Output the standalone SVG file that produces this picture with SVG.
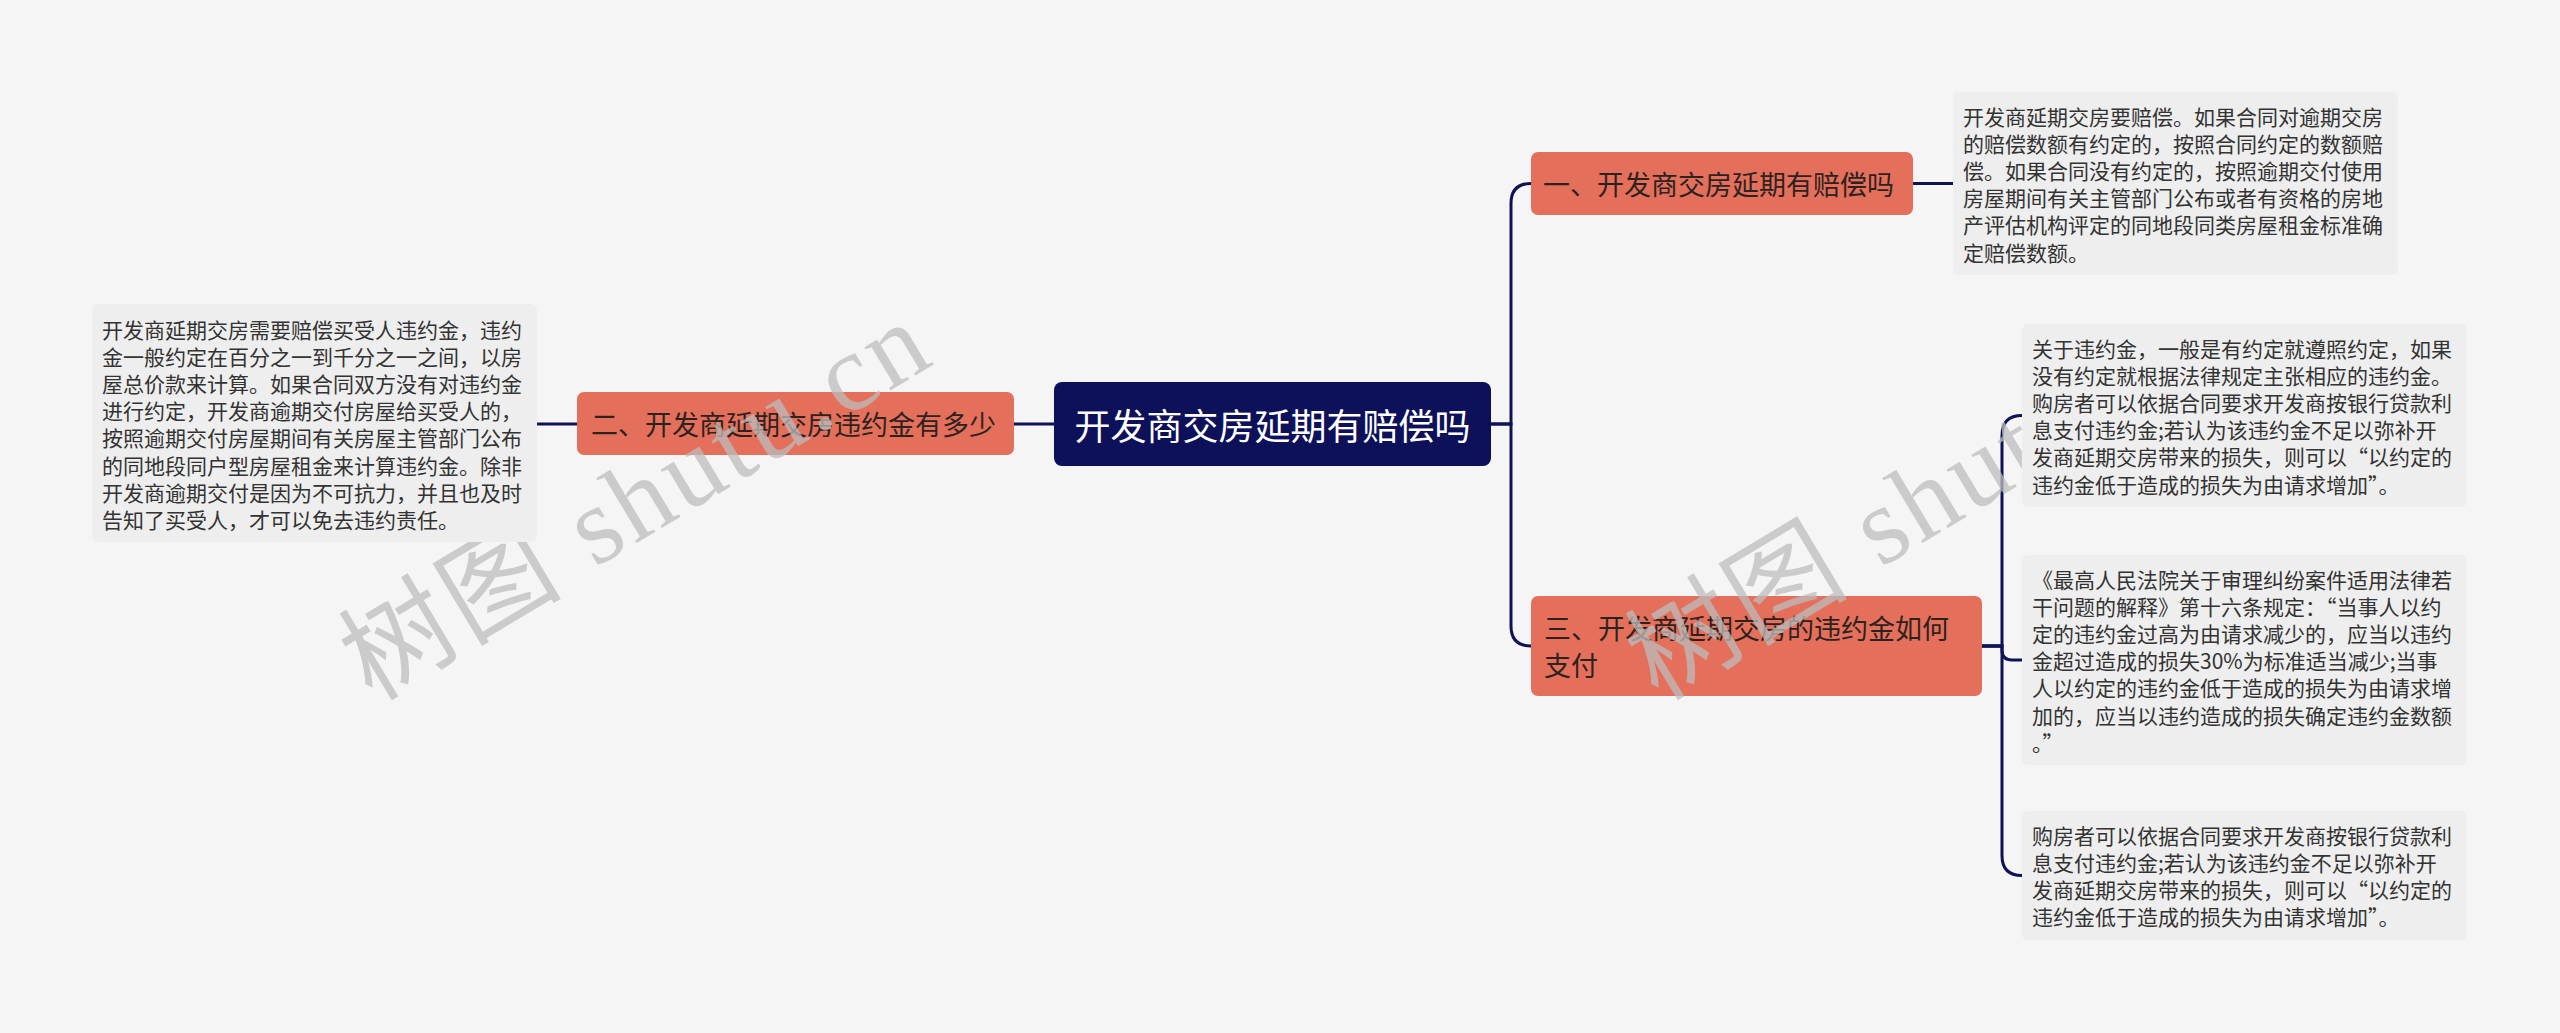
<svg xmlns="http://www.w3.org/2000/svg" width="2560" height="1033" viewBox="0 0 2560 1033">
<style>
.bg{fill:#f5f5f5}
.root{fill:#0c115a}
.topic{fill:#e4705c}
.box{fill:#eeeeee}
.conn{fill:none;stroke:#0e1257;stroke-width:3}
.t{font-family:"Noto Sans CJK SC","Noto Sans",sans-serif;dominant-baseline:central}
.rt{font-size:36px;fill:#ffffff;text-anchor:middle}
.tt{font-size:27px;fill:#2e2220}
.bt{font-size:21px;fill:#333333}
.wm{font-family:"Liberation Serif","Noto Sans CJK SC",serif;font-size:110px;fill:#bdbdbd;opacity:0.75;letter-spacing:4px}
</style>
<rect class="bg" x="0" y="0" width="2560" height="1033"/>
<g id="connectors">
<path class="conn" d="M1054 424 H1014"/>
<path class="conn" d="M577 424 H537"/>
<path class="conn" d="M1491 424 H1511 V203.5 Q1511 183.5 1531 183.5"/>
<path class="conn" d="M1491 424 H1511 V626 Q1511 646 1531 646"/>
<path class="conn" d="M1913 183.5 H1953"/>
<path class="conn" d="M1982 646 H2002 V435.5 Q2002 415.5 2022 415.5"/>
<path class="conn" d="M1982 646 H2002 V650 Q2002 660 2012 660 H2022"/>
<path class="conn" d="M1982 646 H2002 V855.5 Q2002 875.5 2022 875.5"/>
</g>
<g id="root">
<rect class="root" x="1054" y="382" width="437" height="84" rx="8"/>
<text class="t rt" x="1272.5" y="424">开发商交房延期有赔偿吗</text>
</g>
<g id="topic1">
<rect class="topic" x="1531" y="152" width="382" height="63" rx="7"/>
<text class="t tt" x="1543" y="183.5">一、开发商交房延期有赔偿吗</text>
</g>
<g id="topic2">
<rect class="topic" x="577" y="392" width="437" height="63" rx="7"/>
<text class="t tt" x="591" y="423.5">二、开发商延期交房违约金有多少</text>
</g>
<g id="topic3">
<rect class="topic" x="1531" y="596" width="451" height="100" rx="7"/>
<text class="t tt" x="1544" y="627">三、开发商延期交房的违约金如何</text>
<text class="t tt" x="1544" y="664">支付</text>
</g>
<g id="watermarks">
<text class="wm" x="372" y="702" transform="rotate(-31 372 702)">树图 shutu.cn</text>
<text class="wm" x="1658" y="702" transform="rotate(-31 1658 702)">树图 shutu.cn</text>
</g>
<g id="detail1">
<rect class="box" x="1953" y="92" width="445" height="183" rx="6"/>
<text class="t bt" x="1963"><tspan x="1963" y="115.6">开发商延期交房要赔偿。如果合同对逾期交房</tspan><tspan x="1963" y="142.8">的赔偿数额有约定的，按照合同约定的数额赔</tspan><tspan x="1963" y="170">偿。如果合同没有约定的，按照逾期交付使用</tspan><tspan x="1963" y="197.2">房屋期间有关主管部门公布或者有资格的房地</tspan><tspan x="1963" y="224.4">产评估机构评定的同地段同类房屋租金标准确</tspan><tspan x="1963" y="251.6">定赔偿数额。</tspan></text>
</g>
<g id="detail2">
<rect class="box" x="92" y="304" width="445" height="238" rx="6"/>
<text class="t bt" x="102"><tspan x="102" y="328.6">开发商延期交房需要赔偿买受人违约金，违约</tspan><tspan x="102" y="355.8">金一般约定在百分之一到千分之一之间，以房</tspan><tspan x="102" y="383">屋总价款来计算。如果合同双方没有对违约金</tspan><tspan x="102" y="410.2">进行约定，开发商逾期交付房屋给买受人的，</tspan><tspan x="102" y="437.4">按照逾期交付房屋期间有关房屋主管部门公布</tspan><tspan x="102" y="464.6">的同地段同户型房屋租金来计算违约金。除非</tspan><tspan x="102" y="491.8">开发商逾期交付是因为不可抗力，并且也及时</tspan><tspan x="102" y="519">告知了买受人，才可以免去违约责任。</tspan></text>
</g>
<g id="detail3a">
<rect class="box" x="2022" y="324" width="445" height="183" rx="6"/>
<text class="t bt" x="2032"><tspan x="2032" y="347.6">关于违约金，一般是有约定就遵照约定，如果</tspan><tspan x="2032" y="374.8">没有约定就根据法律规定主张相应的违约金。</tspan><tspan x="2032" y="402">购房者可以依据合同要求开发商按银行贷款利</tspan><tspan x="2032" y="429.2">息支付违约金;若认为该违约金不足以弥补开</tspan><tspan x="2032" y="456.4">发商延期交房带来的损失，则可以“以约定的</tspan><tspan x="2032" y="483.6">违约金低于造成的损失为由请求增加”。</tspan></text>
</g>
<g id="detail3b">
<rect class="box" x="2022" y="555" width="445" height="210" rx="6"/>
<text class="t bt" x="2032"><tspan x="2032" y="578.6">《最高人民法院关于审理纠纷案件适用法律若</tspan><tspan x="2032" y="605.8">干问题的解释》第十六条规定：“当事人以约</tspan><tspan x="2032" y="633">定的违约金过高为由请求减少的，应当以违约</tspan><tspan x="2032" y="660.2">金超过造成的损失30%为标准适当减少;当事</tspan><tspan x="2032" y="687.4">人以约定的违约金低于造成的损失为由请求增</tspan><tspan x="2032" y="714.6">加的，应当以违约造成的损失确定违约金数额</tspan><tspan x="2032" y="741.8">。”</tspan></text>
</g>
<g id="detail3c">
<rect class="box" x="2022" y="811" width="445" height="129" rx="6"/>
<text class="t bt" x="2032"><tspan x="2032" y="834.6">购房者可以依据合同要求开发商按银行贷款利</tspan><tspan x="2032" y="861.8">息支付违约金;若认为该违约金不足以弥补开</tspan><tspan x="2032" y="889">发商延期交房带来的损失，则可以“以约定的</tspan><tspan x="2032" y="916.2">违约金低于造成的损失为由请求增加”。</tspan></text>
</g>
</svg>
